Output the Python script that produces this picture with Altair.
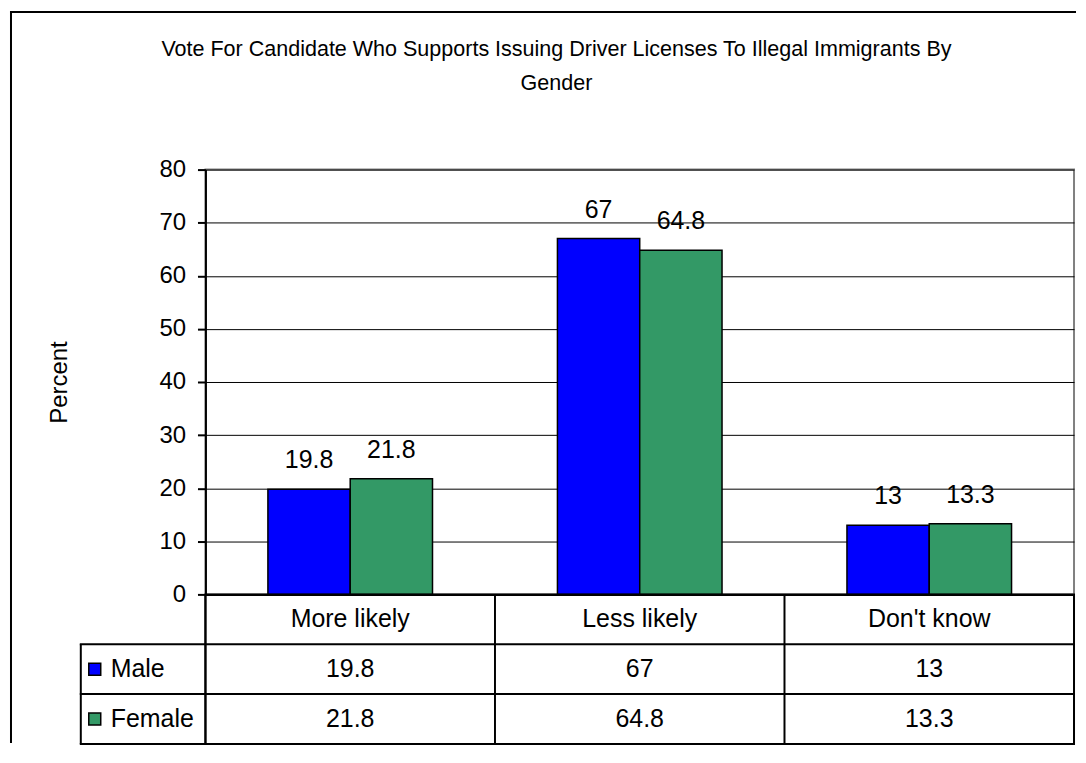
import altair as alt
import pandas as pd

# ---------------- data ----------------
categories = ["More likely", "Less likely", "Don't know"]
genders = ["Male", "Female"]
male_values = [19.8, 67, 13]
female_values = [21.8, 64.8, 13.3]
colors = ["#0000FF", "#339966"]
title_lines = [
    "Vote For Candidate Who Supports Issuing Driver Licenses To Illegal Immigrants By",
    "Gender",
]
y_ticks = [0, 10, 20, 30, 40, 50, 60, 70, 80]
table_rows = ["header", "Male", "Female"]

FONT = "Liberation Sans"
W, H, TH = 871, 426, 150

records = []
for g, vals in zip(genders, [male_values, female_values]):
    for c, v in zip(categories, vals):
        records.append({"category": c, "gender": g, "value": v, "row": g})
bars_df = pd.DataFrame(records)
header_df = pd.DataFrame({"category": categories, "row": ["header"] * len(categories)})
legend_df = pd.DataFrame({"gender": genders, "row": genders})
one_df = pd.DataFrame({"k": [0]})

cat_scale = alt.Scale(domain=categories, paddingInner=0, paddingOuter=0)
color_scale = alt.Scale(domain=genders, range=colors)

# ---------------- top (bar) chart ----------------
x_enc = alt.X(
    "category:N", sort=categories, scale=cat_scale,
    axis=alt.Axis(labels=False, ticks=False, title=None, grid=False,
                  domainColor="black", domainWidth=2),
)
xoff_enc = alt.XOffset("gender:N", sort=genders,
                       scale=alt.Scale(domain=genders, paddingInner=0, paddingOuter=0.759))
y_enc = alt.Y(
    "value:Q", scale=alt.Scale(domain=[0, 80], nice=False),
    axis=alt.Axis(values=y_ticks, title="Percent", grid=True, gridColor="black",
                  gridWidth=1, tickColor="black", tickSize=8, tickWidth=2,
                  domainColor="black", domainWidth=2, labelFontSize=24,
                  labelFont=FONT, labelColor="black", labelPadding=12,
                  titleFont=FONT, titleFontSize=24, titleFontWeight="normal",
                  titleColor="black", titlePadding=88),
)

bars = alt.Chart(bars_df).mark_bar(stroke="black", strokeWidth=1.5).encode(
    x=x_enc, xOffset=xoff_enc, y=y_enc,
    color=alt.Color("gender:N", scale=color_scale, legend=None),
)
labels = alt.Chart(bars_df).mark_text(
    baseline="alphabetic", align="center", dy=-21, fontSize=25, font=FONT, color="black"
).encode(x=x_enc, xOffset=xoff_enc, y=y_enc, text=alt.Text("value:Q"))

border_top = alt.Chart(one_df).mark_rule(color="black", strokeWidth=2).encode(
    x=alt.value(-196), x2=alt.value(W + 2), y=alt.value(-158))
border_left = alt.Chart(one_df).mark_rule(color="black", strokeWidth=2).encode(
    x=alt.value(-195), y=alt.value(-159), y2=alt.value(575))
title = alt.Chart(one_df).mark_text(
    align="center", baseline="alphabetic", fontSize=21.6, font=FONT, color="black",
    lineHeight=34
).encode(x=alt.value(352), y=alt.value(-114), text=alt.value(title_lines))

top = alt.layer(bars, labels, border_top, border_left, title).properties(
    width=W, height=H, view=alt.ViewBackground(stroke="#808080", strokeWidth=2)
)

# ---------------- data table ----------------
tx = alt.X("category:N", sort=categories, scale=cat_scale, axis=None)
row_scale = alt.Scale(domain=table_rows, paddingInner=0, paddingOuter=0)
ty = alt.Y("row:N", sort=table_rows, scale=row_scale, axis=None)

header_text = alt.Chart(header_df).mark_text(
    fontSize=25, font=FONT, color="black", baseline="middle").encode(
    x=tx, y=ty, text="category:N")
value_text = alt.Chart(bars_df).mark_text(
    fontSize=25, font=FONT, color="black", baseline="middle").encode(
    x=tx, y=ty, text=alt.Text("value:Q"))
col_lines = alt.Chart(header_df).mark_rule(color="black", strokeWidth=2).encode(
    x=alt.X("category:N", sort=categories, scale=cat_scale, axis=None, bandPosition=0),
    y=alt.value(0), y2=alt.value(TH))
row_lines = alt.Chart(legend_df).mark_rule(color="black", strokeWidth=2).encode(
    y=alt.Y("row:N", sort=table_rows, scale=row_scale, axis=None, bandPosition=0),
    x=alt.value(-126), x2=alt.value(W))
bottom_line = alt.Chart(legend_df.iloc[[1]]).mark_rule(color="black", strokeWidth=2).encode(
    y=alt.Y("row:N", sort=table_rows, scale=row_scale, axis=None, bandPosition=1),
    x=alt.value(-126), x2=alt.value(W))
left_line = alt.Chart(legend_df.iloc[[0]]).mark_rule(color="black", strokeWidth=2).encode(
    y=alt.Y("row:N", sort=table_rows, scale=row_scale, axis=None, bandPosition=0),
    y2=alt.value(TH), x=alt.value(-125))
legend_sq = alt.Chart(legend_df).mark_square(
    size=144, stroke="black", strokeWidth=1.5, opacity=1).encode(
    x=alt.value(-111), y=ty,
    color=alt.Color("gender:N", scale=color_scale, legend=None))
legend_txt = alt.Chart(legend_df).mark_text(
    align="left", baseline="middle", fontSize=25, font=FONT, color="black").encode(
    x=alt.value(-95), y=ty, text="gender:N")

table = alt.layer(col_lines, row_lines, bottom_line, left_line, header_text,
                  value_text, legend_sq, legend_txt).properties(
    width=W, height=TH, view=alt.ViewBackground(stroke="black", strokeWidth=2)
)

chart = alt.vconcat(top, table, spacing=0, bounds="flush").properties(
    padding={"left": 0, "top": 0, "right": 0, "bottom": 0}, background="white"
)

chart.save("out.html", embed_options={"renderer": "svg", "actions": False})
